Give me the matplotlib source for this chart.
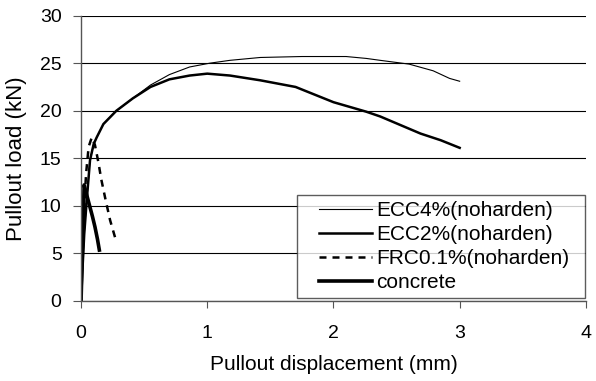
import numpy as np
import matplotlib.pyplot as plt
from matplotlib.lines import Line2D
from matplotlib.legend_handler import HandlerLine2D

plt.rcParams['font.family'] = ['Liberation Sans', 'DejaVu Sans']

# pullout load-displacement curves
ecc4_x = [0, 0.01, 0.025, 0.045, 0.071, 0.1, 0.124, 0.177, 0.28, 0.41, 0.55, 0.70, 0.86,
          1.02, 1.18, 1.42, 1.75, 2.1, 2.26, 2.37, 2.6, 2.79, 2.92, 3.0]
ecc4_y = [0, 3, 7, 10.6, 14.8, 16.5, 17.2, 18.6, 20.0, 21.3, 22.7, 23.8, 24.6,
          25.0, 25.3, 25.6, 25.7, 25.7, 25.5, 25.3, 24.9, 24.2, 23.4, 23.1]

ecc2_x = [0, 0.01, 0.025, 0.045, 0.071, 0.1, 0.124, 0.177, 0.28, 0.41, 0.55, 0.70, 0.86,
          1.0, 1.18, 1.42, 1.7, 2.0, 2.26, 2.37, 2.53, 2.69, 2.85, 3.0]
ecc2_y = [0, 3, 7, 10.6, 14.8, 16.5, 17.2, 18.6, 20.0, 21.3, 22.5, 23.3, 23.7,
          23.9, 23.7, 23.2, 22.5, 20.9, 19.9, 19.4, 18.5, 17.6, 16.9, 16.1]

frc_x = [0, 0.01, 0.025, 0.04, 0.06, 0.085, 0.11, 0.137, 0.16, 0.19, 0.23, 0.28]
frc_y = [0, 5, 10, 13.4, 16.2, 17.2, 16.4, 14.6, 12.8, 10.9, 8.5, 6.2]

conc_x = [0, 0.01, 0.02, 0.024, 0.04, 0.07, 0.09, 0.11, 0.13, 0.145]
conc_y = [0, 5, 10, 12.2, 11.4, 9.9, 8.9, 7.8, 6.5, 5.35]

fig = plt.figure(figsize=(5.96, 3.81), dpi=100)
ax = fig.add_axes([0.136, 0.21, 0.847, 0.749])

ax.plot(ecc4_x, ecc4_y, color='black', lw=0.8, label='ECC4%(noharden)')
ax.plot(ecc2_x, ecc2_y, color='black', lw=1.8, label='ECC2%(noharden)')
ax.plot(frc_x, frc_y, color='black', lw=1.8, ls=(0, (2.8, 2.4)), label='FRC0.1%(noharden)')
ax.plot(conc_x, conc_y, color='black', lw=2.6, label='concrete')

ax.set_xlim(0, 4)
ax.set_ylim(0, 30)
ax.set_xticks([0, 1, 2, 3, 4])
ax.set_yticks(np.arange(0, 31, 5))
ax.yaxis.grid(True, color='black', lw=0.8)
ax.set_axisbelow(True)
for s in ['top', 'right']:
    ax.spines[s].set_visible(False)
for s in ['left', 'bottom']:
    ax.spines[s].set_color('#555555')
    ax.spines[s].set_linewidth(1.0)
ax.tick_params(direction='out', width=0.8, color='#555555', labelsize=14)
ax.tick_params(axis='y', length=6, pad=8)
ax.tick_params(axis='x', length=5, pad=12)

ax.set_xlabel('Pullout displacement (mm)', fontsize=15)
ax.set_ylabel('Pullout load (kN)', fontsize=16)
ax.xaxis.set_label_coords(0.501, -0.19)
ax.yaxis.set_label_coords(-0.107, 0.5)

# fixed-width legend box, entries left aligned, line in the right part of the handle
leg = ax.legend(loc='lower left', bbox_to_anchor=(0.428, 0.0105, 0.570, 0.3), mode='expand',
                fontsize=15, frameon=True, fancybox=False, edgecolor='#333333',
                borderaxespad=0.0, borderpad=0.28, handlelength=3.32, handletextpad=0.2,
                labelspacing=0.24, handler_map={Line2D: HandlerLine2D(xpad=0.77)})
leg.get_frame().set_linewidth(1.0)

fig.savefig('out.png', dpi=100)
